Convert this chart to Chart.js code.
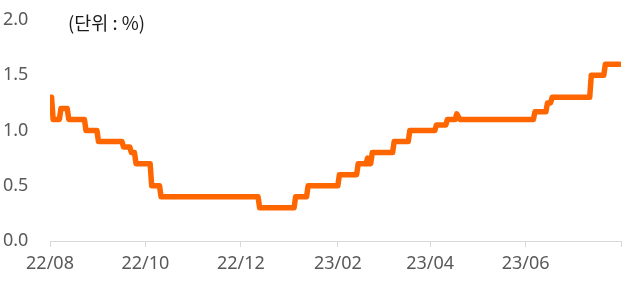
<!DOCTYPE html>
<html><head><meta charset="utf-8">
<script src="https://cdn.jsdelivr.net/npm/chart.js@4.4.0/dist/chart.umd.min.js"></script>
<style>
html,body{margin:0;padding:0;background:#fff;}
#wrap{position:relative;width:631px;height:289px;}
#unit{position:absolute;left:68px;top:13px;font-family:"Noto Sans CJK KR";font-size:18.5px;color:#1a1a1a;line-height:1;white-space:nowrap;}
</style></head><body>
<div id="wrap"><canvas id="c" width="631" height="289"></canvas><div id="unit">(단위 : %)</div></div>
<script>
const axisStart = '2022-08-01';
const axisEnd = '2023-08-01';
const tickDates = ['2022-08-01','2022-10-01','2022-12-01','2023-02-01','2023-04-01','2023-06-01','2023-08-01'];
const tickLabels = ['22/08','22/10','22/12','23/02','23/04','23/06',''];
const yTicks = [0, 0.5, 1.0, 1.5, 2.0];

const dates = [
 '2022-08-01','2022-08-02','2022-08-03','2022-08-07','2022-08-08','2022-08-12','2022-08-13','2022-08-23','2022-08-24','2022-08-31',
 '2022-09-01','2022-09-16','2022-09-17','2022-09-21','2022-09-22','2022-09-24','2022-09-25','2022-10-04','2022-10-05','2022-10-10',
 '2022-10-11','2022-12-12','2022-12-13','2023-01-04','2023-01-05','2023-01-12','2023-01-13','2023-02-01','2023-02-02','2023-02-13',
 '2023-02-14','2023-02-19','2023-02-20','2023-02-21','2023-02-22','2023-02-23','2023-03-08','2023-03-09','2023-03-18','2023-03-19',
 '2023-04-04','2023-04-05','2023-04-11','2023-04-12','2023-04-17','2023-04-18','2023-04-20','2023-06-06','2023-06-07','2023-06-14',
 '2023-06-15','2023-06-17','2023-06-18','2023-07-12','2023-07-13','2023-07-21','2023-07-22','2023-07-31'
];
const rates = [
 1.3,1.3,1.1,1.1,1.2,1.2,1.1,1.1,1.0,1.0,
 0.9,0.9,0.85,0.85,0.8,0.8,0.7,0.7,0.5,0.5,
 0.4,0.4,0.3,0.3,0.4,0.4,0.5,0.5,0.6,0.6,
 0.7,0.7,0.75,0.7,0.7,0.8,0.8,0.9,0.9,1.0,
 1.0,1.05,1.05,1.1,1.1,1.15,1.1,1.1,1.17,1.17,
 1.25,1.25,1.3,1.3,1.5,1.5,1.6,1.6
];

const DAY = 86400000;
const toDay = s => Math.round((Date.parse(s + 'T00:00:00Z') - Date.parse(axisStart + 'T00:00:00Z')) / DAY);
const points = dates.map((d, i) => ({ x: toDay(d), y: rates[i] }));
const tickDays = tickDates.map(toDay);

const font = { family: 'Noto Sans', size: 18 };
new Chart(document.getElementById('c'), {
  type: 'line',
  data: { datasets: [{
    data: points,
    borderColor: '#ff6600',
    borderWidth: 5.5,
    pointRadius: 0,
    tension: 0,
    borderJoinStyle: 'round',
    borderCapStyle: 'round',
    fill: false
  }]},
  options: {
    responsive: false,
    animation: false,
    devicePixelRatio: 1,
    layout: { padding: { top: 20, right: 10, left: 3, bottom: 0 } },
    plugins: { legend: { display: false }, tooltip: { enabled: false } },
    scales: {
      x: {
        type: 'linear',
        min: toDay(axisStart),
        max: toDay(axisEnd),
        afterBuildTicks: s => { s.ticks = tickDays.map(v => ({ value: v })); },
        afterFit: s => { s.height = 48; },
        ticks: {
          autoSkip: false, maxRotation: 0, font: font, color: '#595959', padding: 6,
          callback: (v, i) => tickLabels[i]
        },
        grid: { drawOnChartArea: false, tickLength: 6, color: '#d9d9d9', lineWidth: 1 },
        border: { display: true, color: '#d9d9d9', width: 1 }
      },
      y: {
        min: 0, max: 2,
        afterBuildTicks: s => { s.ticks = yTicks.map(v => ({ value: v })); },
        afterFit: s => { s.width = 47; },
        ticks: { font: font, color: '#595959', padding: 0, crossAlign: 'far', callback: v => Number(v).toFixed(1) },
        grid: { display: false, drawTicks: false },
        border: { display: false }
      }
    }
  }
});
</script>
</body></html>
